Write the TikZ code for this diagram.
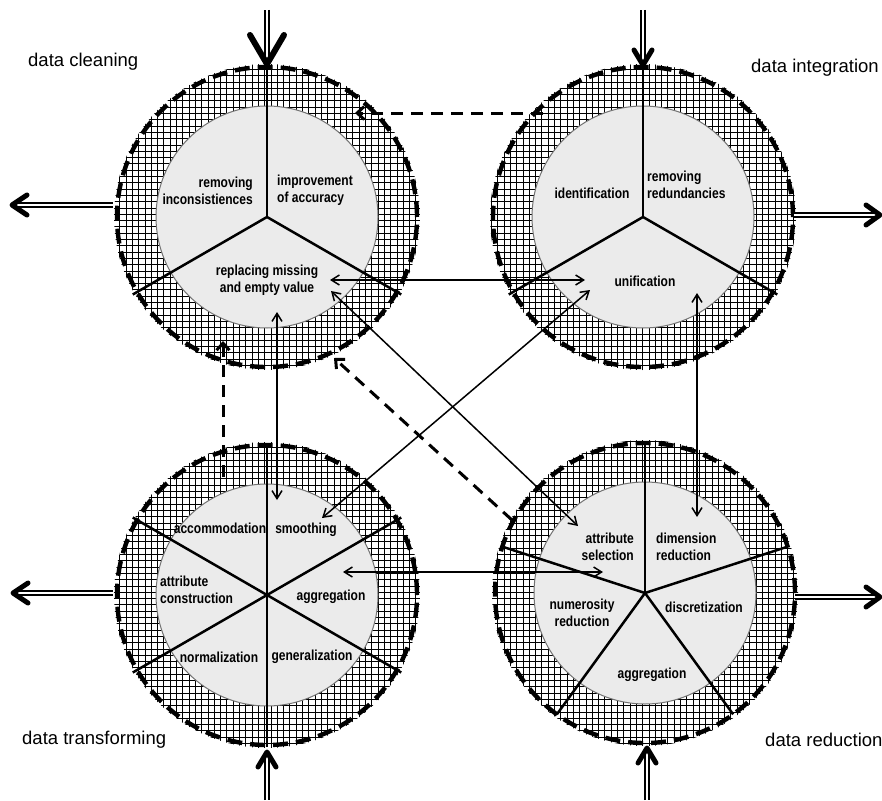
\documentclass[tikz,border=0pt]{standalone}
\usepackage{fontspec}
\setmainfont{Liberation Sans}
\newfontfamily\labfont[FakeStretch=0.83]{Liberation Sans}
\usetikzlibrary{arrows.meta,calc}
\begin{document}
\begin{tikzpicture}[x=1pt,y=-1pt,
  hatchl/.style={line width=0.7pt, black},
  core/.style={fill=black!8, draw=black!55, line width=1pt},
  ring/.style={line width=4.4pt, dash pattern=on 15pt off 8pt},
  spoke/.style={line width=2.5pt},
  lab/.style={font=\labfont\bfseries\fontsize{14.5}{17.5}\selectfont, inner sep=0pt},
  big/.style={font=\fontsize{18.5}{22}\selectfont, inner sep=0pt, anchor=west},
  link/.style={line width=1.5pt, {Straight Barb[length=8pt,width=10pt]}-{Straight Barb[length=8pt,width=10pt]}},
  dlink/.style={line width=3pt, dash pattern=on 12pt off 8pt, -{Straight Barb[length=7pt,width=13pt]}},
  dbl/.style={double, double distance=2.6pt, line width=1.8pt},
  chev/.style={line width=5pt, line cap=round, line join=round},
]
\useasboundingbox (0,0) rectangle (882,800);

% centres
\coordinate (TL) at (267,217);
\coordinate (TR) at (643,217);
\coordinate (BL) at (267,595);
\coordinate (BR) at (645,593);

% hatched rings, cores, dashed rings
\foreach \c in {TL,TR,BL,BR}{
  \begin{scope}[even odd rule]
    \clip (\c) circle (153pt) (\c) circle (111pt);
    \draw[hatchl, step=6.3pt] ($(\c)+(-160,-160)$) grid ($(\c)+(160,160)$);
  \end{scope}
  \draw[core] (\c) circle (111pt);
  \draw[ring] (\c) circle (150pt);
}

% spokes
\foreach \a/\l in {90/150, 210/155, 330/155} \draw[spoke] (TL) -- ++(\a:\l pt);
\foreach \a/\l in {90/150, 210/155, 330/155} \draw[spoke] (TR) -- ++(\a:\l pt);
\foreach \a/\l in {30/155, 90/152, 150/155, 210/155, 270/152, 330/155} \draw[spoke] (BL) -- ++(\a:\l pt);
\foreach \a/\l in {18/150, 90/152, 162/150, 234/150, 306/150} \draw[spoke] (BR) -- ++(\a:\l pt);

% labels: data cleaning
\node[lab, anchor=east, align=right] (tl1) at (253,191) {removing\\inconsistiences};
\node[lab, anchor=west, align=left] (tl2) at (277,190) {improvement\\of accuracy};
\node[lab, align=center] (tl3) at (267,280) {replacing missing\\and empty value};
% data integration
\node[lab] (tr1) at (592,193) {identification};
\node[lab, anchor=west, align=left] (tr2) at (647,185) {removing\\redundancies};
\node[lab] (tr3) at (645,281) {unification};
% data transforming
\node[lab] (bl1) at (220,528) {accommodation};
\node[lab] (bl2) at (306,530) {smoothing};
\node[lab, anchor=west, align=left] (bl3) at (160,590) {attribute\\construction};
\node[lab] (bl4) at (331,597) {aggregation};
\node[lab] (bl5) at (219,657) {normalization};
\node[lab] (bl6) at (312,657) {generalization};
% data reduction
\node[lab, anchor=east, align=right] (br1) at (634,547) {attribute\\selection};
\node[lab, anchor=west, align=left] (br2) at (656,547) {dimension\\reduction};
\node[lab, align=center] (br3) at (582,613) {numerosity\\reduction};
\node[lab] (br4) at (704,607) {discretization};
\node[lab] (br5) at (652,675) {aggregation};

% big titles
\node[big] (t1) at (28,62) {data cleaning};
\node[big] (t2) at (751,68) {data integration};
\node[big] (t3) at (22,740) {data transforming};
\node[big] (t4) at (765,740) {data reduction};

% thin two-way links
\coordinate (a1) at (330,280); \coordinate (a2) at (585,280);
\coordinate (b1) at (331,291); \coordinate (b2) at (578,526);
\coordinate (c1) at (277,312); \coordinate (c2) at (277,500);
\coordinate (d1) at (322,518); \coordinate (d2) at (590,290);
\coordinate (e1) at (343,572); \coordinate (e2) at (603,572);
\coordinate (f1) at (697,293); \coordinate (f2) at (697,517);
\draw[link] (a1) -- (a2);
\draw[link] (b1) -- (b2);
\draw[link] (c1) -- (c2);
\draw[link] (d1) -- (d2);
\draw[link] (e1) -- (e2);
\draw[link] (f1) -- (f2);

% dashed links
\coordinate (g1) at (543,113); \coordinate (g2) at (355,113);
\coordinate (h1) at (512,520); \coordinate (h2) at (334,358);
\coordinate (i1) at (223,477); \coordinate (i2) at (223,341);
\draw[dlink] (g1) -- (g2);
\draw[dlink] (h1) -- (h2);
\draw[dlink] (i1) -- (i2);

% outer double arrows
\coordinate (s1) at (267,10);  \coordinate (p1) at (267,64);
\coordinate (s2) at (643,10);  \coordinate (p2) at (643,65);
\coordinate (s3) at (113,205); \coordinate (p3) at (12,205);
\coordinate (s4) at (794,215); \coordinate (p4) at (880,215);
\coordinate (s5) at (113,593); \coordinate (p5) at (13,593);
\coordinate (s6) at (795,597); \coordinate (p6) at (880,597);
\coordinate (s7) at (267,800); \coordinate (p7) at (267,752);
\coordinate (s8) at (647,800); \coordinate (p8) at (647,748);
\draw[dbl, shorten >=4pt] (s1) -- (p1);
\draw[dbl, shorten >=3pt] (s2) -- (p2);
\draw[dbl, shorten >=3pt] (s3) -- (p3);
\draw[dbl, shorten >=3pt] (s4) -- (p4);
\draw[dbl, shorten >=3pt] (s5) -- (p5);
\draw[dbl, shorten >=3pt] (s6) -- (p6);
\draw[dbl, shorten >=3pt] (s7) -- (p7);
\draw[dbl, shorten >=3pt] (s8) -- (p8);
% arrow heads
\draw[chev, line width=6pt] ($(p1)+(-17,-29)$) -- (p1) -- ($(p1)+(17,-29)$);
\draw[chev] ($(p2)+(-9,-15)$) -- (p2) -- ($(p2)+(9,-15)$);
\draw[chev] ($(p3)+(15,-10)$) -- (p3) -- ($(p3)+(15,10)$);
\draw[chev] ($(p4)+(-14,-10)$) -- (p4) -- ($(p4)+(-14,10)$);
\draw[chev] ($(p5)+(15,-10)$) -- (p5) -- ($(p5)+(15,10)$);
\draw[chev] ($(p6)+(-14,-10)$) -- (p6) -- ($(p6)+(-14,10)$);
\draw[chev] ($(p7)+(-9,15)$) -- (p7) -- ($(p7)+(9,15)$);
\draw[chev] ($(p8)+(-9,15)$) -- (p8) -- ($(p8)+(9,15)$);
\end{tikzpicture}
\end{document}
